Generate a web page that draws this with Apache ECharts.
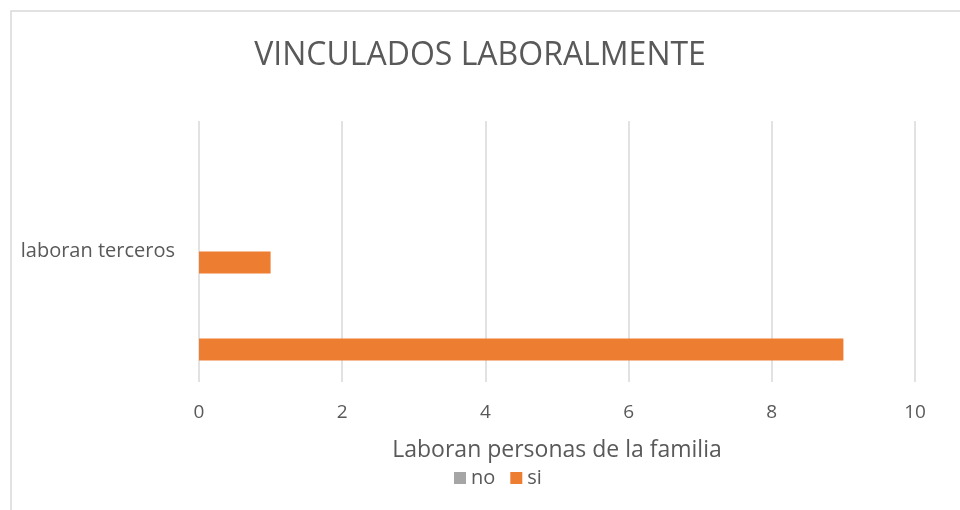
<!DOCTYPE html>
<html>
<head>
<meta charset="utf-8">
<script src="https://cdn.jsdelivr.net/npm/echarts@6/dist/echarts.min.js"></script>
<style>
  html, body { margin: 0; padding: 0; background: #fff; }
  #chart { width: 960px; height: 510px; }
</style>
</head>
<body>
<div id="chart"></div>
<script>
// categories, bottom to top (y axis is category)
var categories = ['', 'laboran terceros', ''];
var seriesNames = ['no', 'si'];
var noValues = [0, 0, 0];
var siValues = [9, 1, 0];
var xTicks = { min: 0, max: 10, interval: 2 };

var chart = echarts.init(document.getElementById('chart'));
var font = '"Open Sans", sans-serif';

chart.setOption({
  animation: false,
  textStyle: { fontFamily: font },
  graphic: [{
    type: 'rect',
    shape: { x: 11, y: 11, width: 1000, height: 600 },
    style: { fill: 'none', stroke: '#d9d9d9', lineWidth: 1.5 },
    silent: true
  }],
  title: {
    text: 'VINCULADOS LABORALMENTE',
    left: 'center',
    top: 35,
    textStyle: { fontFamily: font, fontSize: 32, fontWeight: 'normal', color: '#595959' }
  },
  legend: {
    data: seriesNames,
    bottom: 17,
    left: 449,
    itemWidth: 12,
    itemHeight: 12,
    itemGap: 15,
    textStyle: { fontFamily: font, fontSize: 20, color: '#595959' },
    icon: 'rect'
  },
  grid: { left: 199, right: 45, top: 121, bottom: 128, containLabel: false },
  xAxis: {
    type: 'value',
    min: xTicks.min,
    max: xTicks.max,
    interval: xTicks.interval,
    name: 'Laboran personas de la familia',
    nameLocation: 'middle',
    nameGap: 57,
    nameTextStyle: { fontFamily: font, fontSize: 23, color: '#595959' },
    axisLine: { show: false },
    axisTick: { show: false },
    axisLabel: { fontFamily: font, fontSize: 19, color: '#595959', margin: 21 },
    splitLine: { show: true, lineStyle: { color: '#d9d9d9', width: 1.5 } }
  },
  yAxis: {
    type: 'category',
    data: categories,
    axisLine: { show: false },
    axisTick: { show: false },
    axisLabel: { fontFamily: font, fontSize: 20, color: '#595959', margin: 24 }
  },
  series: [
    { name: 'no', type: 'bar', data: noValues, barWidth: 22, barGap: '0%', itemStyle: { color: '#a5a5a5' } },
    { name: 'si', type: 'bar', data: siValues, barWidth: 22, barGap: '0%', itemStyle: { color: '#ed7d31' } }
  ]
});
</script>
</body>
</html>
